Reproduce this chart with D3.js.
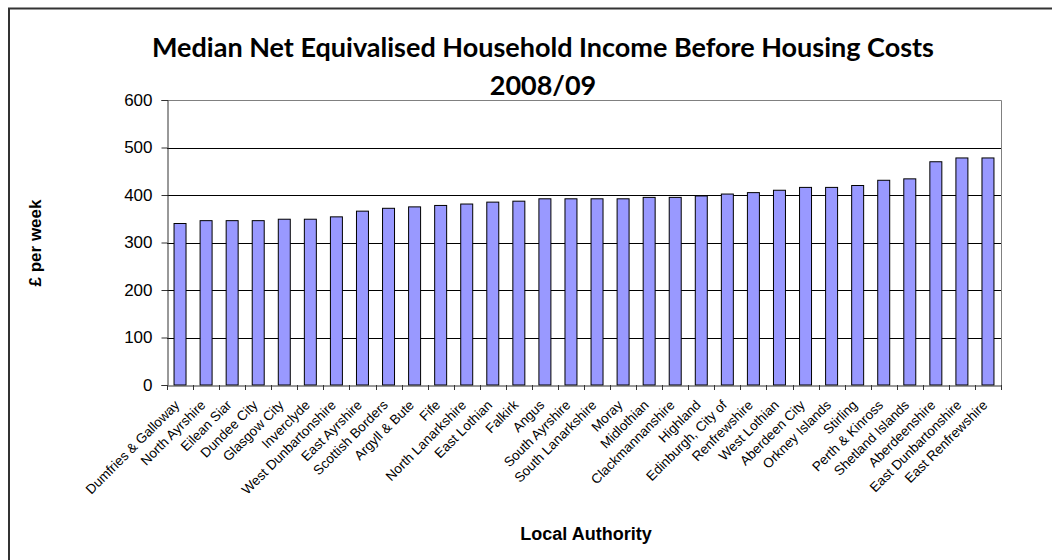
<!DOCTYPE html>
<html>
<head>
<meta charset="utf-8">
<script src="https://cdn.jsdelivr.net/npm/d3@7"></script>
<style>
  html, body { margin: 0; padding: 0; background: #fff; }
  svg { display: block; }
</style>
</head>
<body>
<svg id="chart" width="1052" height="560"></svg>
<script>
const categories = [
  "Dumfries & Galloway", "North Ayrshire", "Eilean Siar", "Dundee City", "Glasgow City",
  "Inverclyde", "West Dunbartonshire", "East Ayrshire", "Scottish Borders", "Argyll & Bute",
  "Fife", "North Lanarkshire", "East Lothian", "Falkirk", "Angus", "South Ayrshire",
  "South Lanarkshire", "Moray", "Midlothian", "Clackmannanshire", "Highland",
  "Edinburgh, City of", "Renfrewshire", "West Lothian", "Aberdeen City", "Orkney Islands",
  "Stirling", "Perth & Kinross", "Shetland Islands", "Aberdeenshire", "East Dunbartonshire",
  "East Renfrewshire"
];
const values = [
  340, 346, 346, 346, 349, 349, 354, 366, 372, 375,
  378, 381, 385, 387, 392, 392, 392, 392, 395, 395,
  398, 402, 405, 410, 416, 416, 420, 431, 434, 470,
  478, 478
];
const yTicks = [0, 100, 200, 300, 400, 500, 600];
const titleLines = ["Median Net Equivalised Household Income Before Housing Costs", "2008/09"];
const yAxisTitle = "£ per week";
const xAxisTitle = "Local Authority";

const svg = d3.select("#chart");
const plot = { left: 167, right: 1001, top: 100, bottom: 385 };
const arial = "Arial, 'Liberation Sans', sans-serif";

// outer chart border (only top and left visible)
svg.append("path")
  .attr("d", "M9,560 V8.5 H1052")
  .attr("fill", "none").attr("stroke", "#333").attr("stroke-width", 2);

const x = d3.scaleBand().domain(categories).range([plot.left, plot.right]).paddingInner(0.54).paddingOuter(0.27);
const y = d3.scaleLinear().domain([0, 600]).range([plot.bottom, plot.top]);

// gridlines
svg.append("g").selectAll("line").data(yTicks.filter(t => t > 0 && t < 600)).join("line")
  .attr("x1", plot.left).attr("x2", plot.right)
  .attr("y1", d => Math.round(y(d)) + 0.5).attr("y2", d => Math.round(y(d)) + 0.5)
  .attr("stroke", "#000").attr("stroke-width", 1);

// plot area border top/right (gray)
svg.append("path")
  .attr("d", `M${plot.left},${plot.top + 0.5} H${plot.right + 0.5} V${plot.bottom}`)
  .attr("fill", "none").attr("stroke", "#808080").attr("stroke-width", 1);

// bars
svg.append("g").selectAll("rect").data(values).join("rect")
  .attr("x", (d, i) => x(categories[i]))
  .attr("y", d => y(d))
  .attr("width", x.bandwidth())
  .attr("height", d => plot.bottom - y(d))
  .attr("fill", "#9999FF")
  .attr("stroke", "#000").attr("stroke-width", 1);

// y axis
const yAxis = d3.axisLeft(y).tickValues(yTicks).tickSize(6).tickPadding(9).tickFormat(d3.format("d"));
const gy = svg.append("g").attr("transform", `translate(${plot.left + 0.5},0)`).call(yAxis);
gy.select(".domain").attr("stroke", "#333");
gy.selectAll(".tick line").attr("stroke", "#333");
gy.selectAll("text").attr("font-family", arial).attr("font-size", 17).attr("fill", "#000");

// x axis
const xAxis = d3.axisBottom(x).tickSize(0).tickFormat(d => d);
const gx = svg.append("g").attr("transform", `translate(0,${plot.bottom + 0.5})`).call(xAxis);
gx.select(".domain").attr("stroke", "#333");
// boundary ticks
const bounds = d3.range(categories.length + 1).map(i => plot.left + i * x.step());
svg.append("g").selectAll("line").data(bounds).join("line")
  .attr("x1", d => Math.round(d) + 0.5).attr("x2", d => Math.round(d) + 0.5)
  .attr("y1", plot.bottom).attr("y2", plot.bottom + 5)
  .attr("stroke", "#333");
gx.selectAll(".tick text")
  .attr("font-family", arial).attr("font-size", 13.5).attr("fill", "#000")
  .attr("text-anchor", "end")
  .attr("dy", "0.35em")
  .attr("transform", "translate(-3,17) rotate(-45)")
  .attr("y", 0).attr("x", 0);

// titles
const title = svg.append("text")
  .attr("text-anchor", "middle")
  .attr("font-family", "Lato, 'Open Sans', sans-serif").attr("font-weight", "bold").attr("font-size", 27)
  .attr("fill", "#000");
title.selectAll("tspan").data(titleLines).join("tspan")
  .attr("x", 543).attr("y", (d, i) => i === 0 ? 57 : 95)
  .text(d => d);

svg.append("text")
  .attr("transform", `translate(41,243) rotate(-90)`)
  .attr("text-anchor", "middle")
  .attr("font-family", arial).attr("font-weight", "bold").attr("font-size", 17)
  .text(yAxisTitle);

svg.append("text")
  .attr("x", (plot.left + plot.right) / 2 + 2).attr("y", 540)
  .attr("text-anchor", "middle")
  .attr("font-family", arial).attr("font-weight", "bold").attr("font-size", 18)
  .text(xAxisTitle);
</script>
</body>
</html>
